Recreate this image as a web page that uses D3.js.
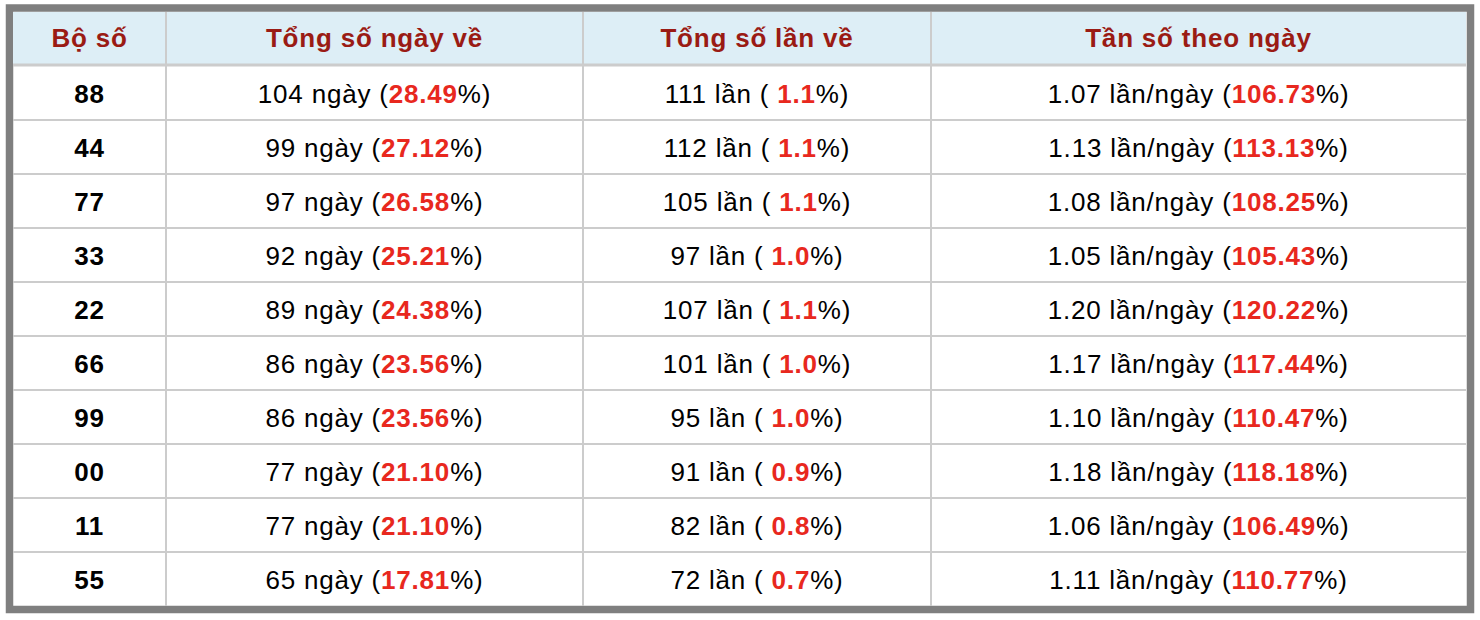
<html>
<head>
<meta charset="UTF-8">
<script src="https://cdn.jsdelivr.net/npm/d3@7"></script>
<style>
  body { margin: 0; background: #fff; }
  text { font-family: "Liberation Sans", Arial, sans-serif; font-size: 26px; letter-spacing: 0.8px; }
</style>
</head>
<body>
<script>
var headers = ['Bộ số', 'Tổng số ngày về', 'Tổng số lần về', 'Tần số theo ngày'];
var boSo = ['88', '44', '77', '33', '22', '66', '99', '00', '11', '55'];
var soNgay = [104, 99, 97, 92, 89, 86, 86, 77, 77, 65];
var pctNgay = ['28.49', '27.12', '26.58', '25.21', '24.38', '23.56', '23.56', '21.10', '21.10', '17.81'];
var soLan = [111, 112, 105, 97, 107, 101, 95, 91, 82, 72];
var pctLan = ['1.1', '1.1', '1.1', '1.0', '1.1', '1.0', '1.0', '0.9', '0.8', '0.7'];
var tanSo = ['1.07', '1.13', '1.08', '1.05', '1.20', '1.17', '1.10', '1.18', '1.06', '1.11'];
var pctTanSo = ['106.73', '113.13', '108.25', '105.43', '120.22', '117.44', '110.47', '118.18', '106.49', '110.77'];

var colEdges = [13, 166, 583, 931, 1466];
var red = '#e8281e';

var svg = d3.select('body').append('svg').attr('width', 1480).attr('height', 620);

var y = d3.scaleBand().domain(d3.range(boSo.length)).range([66, 606]);

// outer frame
svg.append('rect').attr('x', 9.5).attr('y', 8).attr('width', 1461).attr('height', 601.5)
   .attr('fill', '#fff').attr('stroke', '#7f7f7f').attr('stroke-width', 7.5);
svg.append('rect').attr('x', 13).attr('y', 12).attr('width', 1453).attr('height', 52).attr('fill', '#ddeef6');

// grid lines
svg.selectAll('.hl').data(d3.range(1, boSo.length)).join('line')
   .attr('x1', 13).attr('x2', 1466).attr('y1', function (i) { return y(i); }).attr('y2', function (i) { return y(i); })
   .attr('stroke', '#cccccc').attr('stroke-width', 2);
svg.append('line').attr('x1', 13).attr('x2', 1466).attr('y1', 65).attr('y2', 65)
   .attr('stroke', '#cccccc').attr('stroke-width', 3);
svg.selectAll('.vl').data(colEdges.slice(1, 4)).join('line')
   .attr('x1', function (d) { return d; }).attr('x2', function (d) { return d; })
   .attr('y1', 12).attr('y2', 606).attr('stroke', '#cccccc').attr('stroke-width', 2);

function cx(c) { return (colEdges[c] + colEdges[c + 1]) / 2; }

svg.selectAll('.head').data(headers).join('text')
   .attr('x', function (d, i) { return cx(i); }).attr('y', 47)
   .attr('text-anchor', 'middle').attr('font-weight', 'bold').attr('fill', '#9a1b14')
   .text(function (d) { return d; });

var rows = svg.selectAll('.row').data(boSo).join('g')
   .attr('transform', function (d, i) { return 'translate(0,' + (y(i) + y.bandwidth() / 2 + 10) + ')'; });

rows.append('text').attr('x', cx(0)).attr('text-anchor', 'middle').attr('font-weight', 'bold')
   .text(function (d) { return d; });

function cell(col, parts) {
  var t = rows.append('text').attr('x', cx(col)).attr('text-anchor', 'middle');
  t.each(function (d, i) {
    var p = parts(i), el = d3.select(this);
    el.append('tspan').text(p[0]);
    el.append('tspan').attr('fill', red).attr('font-weight', 'bold').text(p[1]);
    el.append('tspan').text(p[2]);
  });
}
cell(1, function (i) { return [soNgay[i] + ' ngày (', pctNgay[i], '%)']; });
cell(2, function (i) { return [soLan[i] + ' lần ( ', pctLan[i], '%)']; });
cell(3, function (i) { return [tanSo[i] + ' lần/ngày (', pctTanSo[i], '%)']; });
</script>
</body>
</html>
